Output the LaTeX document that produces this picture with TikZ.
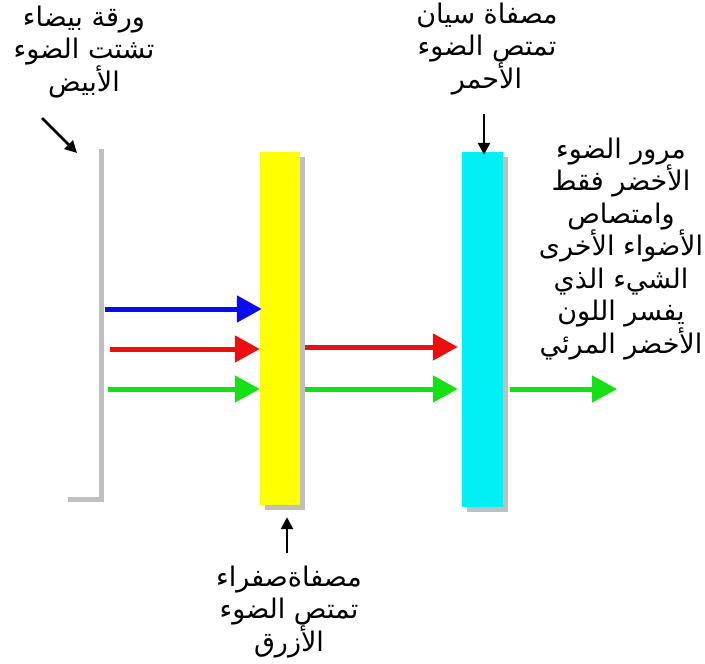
\documentclass[tikz,border=0pt]{standalone}
\usepackage{fontspec}
\newfontfamily\arabicfont[Script=Arabic]{DejaVu Sans}
\TeXXeTstate=1
\usetikzlibrary{arrows.meta,shadows}
\definecolor{rayblue}{RGB}{10,10,245}
\definecolor{rayred}{RGB}{235,15,15}
\definecolor{raygreen}{RGB}{20,225,20}
\definecolor{filteryellow}{RGB}{255,255,0}
\definecolor{filtercyan}{RGB}{0,240,245}
\tikzset{
  bar/.style={draw=none, inner sep=0pt, minimum width=40pt,
    drop shadow={shadow xshift=5pt, shadow yshift=-5pt, fill=black!50}},
  ray/.style={line width=5pt, -{Triangle[length=25pt,width=26pt]}},
  pointer/.style={line width=2.6pt, -{Triangle[length=12pt,width=12pt]}},
  caption/.style={font=\arabicfont\fontsize{27}{32.5}\selectfont, align=center, inner sep=0pt}
}
\begin{document}
\begin{tikzpicture}[x=1pt,y=-1pt]
\useasboundingbox[fill=white] (0,0) rectangle (705,664);

% white sheet of paper, seen edge-on
\node[bar, fill=white, minimum width=36pt, minimum height=353pt] (paper) at (81,320) {};
% yellow and cyan filters
\node[bar, fill=filteryellow, minimum height=353pt] (yellow) at (280,328.5) {};
\node[bar, fill=filtercyan, minimum width=41pt, minimum height=355pt] (cyan) at (482.5,329.5) {};

% rays between the sheet and the yellow filter
\coordinate (b0) at (105,309);
\coordinate (r0) at (110,349);
\coordinate (g0) at (108,389);
\draw[ray, rayblue]  (b0) -- ([xshift=2pt]b0 -| yellow.west);
\draw[ray, rayred]   (r0) -- (r0 -| yellow.west);
\draw[ray, raygreen] (g0) -- (g0 -| yellow.west);

% rays between the two filters
\coordinate (r1) at (305,347);
\coordinate (g1) at (305,389);
\draw[ray, rayred]   (r1) -- ([xshift=-4pt]r1 -| cyan.west);
\draw[ray, raygreen] (g1) -- ([xshift=-4pt]g1 -| cyan.west);

% green light leaving the cyan filter
\coordinate (g2) at (510,389);
\coordinate (g3) at (617,389);
\draw[ray, raygreen] (g2) -- (g3);

% captions
\node[caption] (cpaper) at (84,52) {\beginR ورقة بيضاء\endR\\\beginR تشتت الضوء\endR\\\beginR الأبيض\endR};
\node[caption] (ccyan) at (487,49) {\beginR مصفاة سيان\endR\\\beginR تمتص الضوء\endR\\\beginR الأحمر\endR};
\node[caption] (cgreen) at (621,249) {\beginR مرور الضوء\endR\\\beginR الأخضر فقط\endR\\\beginR وامتصاص\endR\\\beginR الأضواء الأخرى\endR\\\beginR الشيء الذي\endR\\\beginR يفسر اللون\endR\\\beginR الأخضر المرئي\endR};
\node[caption] (cyellow) at (289,612) {\beginR مصفاةصفراء\endR\\\beginR تمتص الضوء\endR\\\beginR الأزرق\endR};

% pointers from captions
\coordinate (p0) at (42,118);
\coordinate (p1) at (77,153);
\draw[pointer] (p0) -- (p1);
\coordinate (c0) at (484,114);
\draw[pointer] (c0) -- ([yshift=-3pt]c0 |- cyan.north);
\coordinate (y0) at (287,553);
\draw[pointer] (y0) -- ([yshift=-12pt]y0 |- yellow.south);
\end{tikzpicture}
\end{document}
